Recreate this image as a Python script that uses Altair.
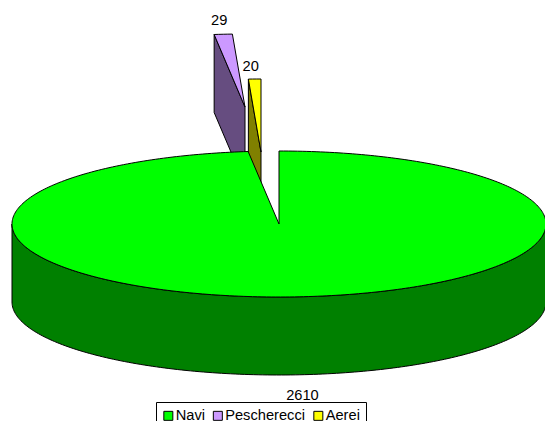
import math
import altair as alt

# Series shown in the pie, clockwise from twelve o'clock
categories = ["Navi", "Pescherecci", "Aerei"]
values = [2610, 29, 20]
top_colors = ["#00FF00", "#CC99FF", "#FFFF00"]
side_colors = ["#008000", "#664D80", "#808000"]

# Tilted pie geometry, in pixels
center_x, center_y = 279, 224
radius_x, radius_y = 267, 73
depth = 78
explode = [(0, 0), (-34, -117), (-18, -72)]
label_offsets = [(8, 21), (-4, -13), (-4, -12)]


def rim(angle, dx=0, dy=0, drop=0):
    """Point on the disc rim; y grows upward because the projection flips it."""
    a = math.radians(angle)
    return [dx + radius_x * math.sin(a), -(dy - radius_y * math.cos(a) + drop)]


def arc(start, end, dx=0, dy=0, drop=0):
    steps = max(2, int(abs(end - start)) + 1)
    return [rim(start + (end - start) * i / steps, dx, dy, drop) for i in range(steps + 1)]


def feature(name, ring):
    return {
        "type": "Feature",
        "properties": {"name": name},
        "geometry": {"type": "Polygon", "coordinates": [ring + [ring[0]]]},
    }


total = sum(values)
spans = []
running = 0
for v in values:
    spans.append((running, running + v / total * 360))
    running += v / total * 360

tops, sides, labels = [], [], []
for i, name in enumerate(categories):
    start, end = spans[i]
    dx, dy = explode[i]
    apex = [dx, -dy]
    tops.append(feature(name, [apex] + arc(start, end, dx, dy)))
    if i == 0:
        # Front wall of the large slice: lower half of the rim, extruded downward
        front = arc(90, 270)
        sides.append(feature(name, front + arc(270, 90, drop=depth)))
        edge = rim((start + end) / 2, dx, dy, depth)
    else:
        # Cut face on the visible side of an exploded slice
        outer = rim(start, dx, dy)
        outer_low = rim(start, dx, dy, depth)
        apex_low = [dx, -(dy + depth)]
        sides.append(feature(name, [outer, apex, apex_low, outer_low]))
        edge = rim((start + end) / 2, dx, dy)
    ox, oy = label_offsets[i]
    labels.append({"text": str(values[i]), "lon": edge[0] + ox, "lat": edge[1] - oy})

color_scale = alt.Scale(domain=categories, range=top_colors)
legend = alt.Legend(
    title=None,
    orient="none",
    legendX=156,
    legendY=402,
    direction="horizontal",
    columns=3,
    padding=6,
    strokeColor="black",
    fillColor="white",
    symbolType="square",
    symbolSize=81,
    symbolStrokeColor="black",
    symbolStrokeWidth=1,
    symbolOpacity=1,
    symbolOffset=-1,
    labelFont="Liberation Sans",
    labelFontSize=14.67,
    labelColor="black",
    labelOffset=0,
    labelLimit=200,
    columnPadding=5.5,
)


def side_layer(i):
    return alt.Chart(alt.Data(values=[sides[i]])).mark_geoshape(
        stroke="black", strokeWidth=1
    ).encode(fill=alt.value(side_colors[i]))


def top_layer(i):
    return alt.Chart(alt.Data(values=[tops[i]])).mark_geoshape(
        stroke="black", strokeWidth=1
    ).encode(
        fill=alt.Fill("properties.name:N", scale=color_scale, legend=legend)
    )


text_layer = alt.Chart(alt.Data(values=labels)).mark_text(
    font="Liberation Sans", fontSize=14.67, color="black", align="center", baseline="middle"
).encode(longitude="lon:Q", latitude="lat:Q", text="text:N")

chart = alt.layer(
    side_layer(1), top_layer(1),
    side_layer(2), top_layer(2),
    side_layer(0), top_layer(0),
    text_layer,
).project(
    type="identity", reflectY=True, scale=1, translate=[center_x, center_y]
).properties(
    width=545, height=421, padding=0, autosize=alt.AutoSizeParams(type="none"),
    background="white",
).configure_view(strokeWidth=0)

chart.save("out.html", embed_options={"renderer": "svg", "actions": False})
